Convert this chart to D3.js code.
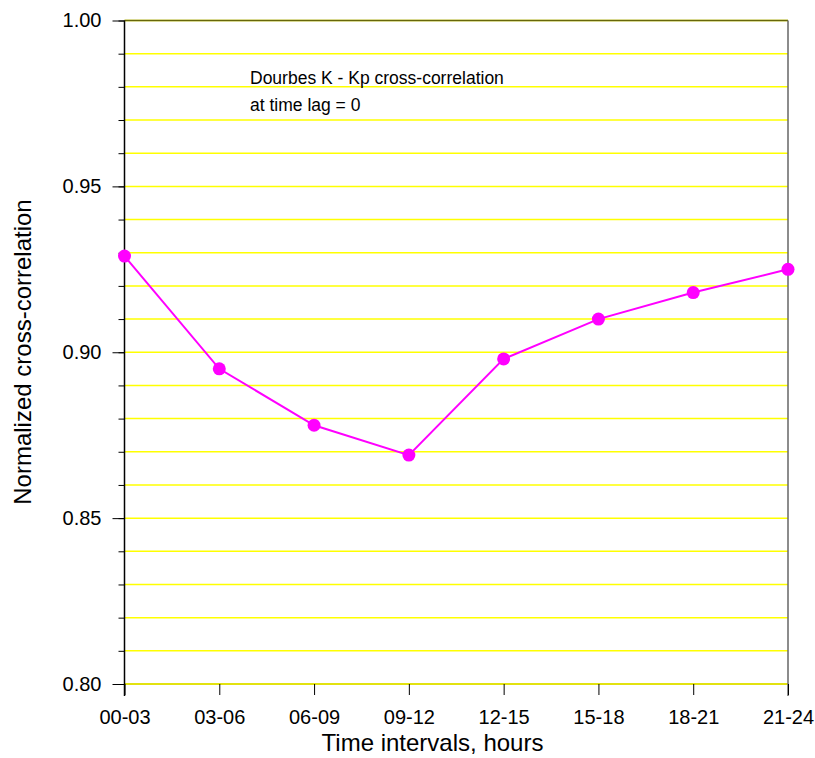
<!DOCTYPE html>
<html>
<head>
<meta charset="utf-8">
<script src="https://cdn.jsdelivr.net/npm/d3@7"></script>
<style>
  body { margin: 0; background: #fff; }
  text { font-family: Arial, "Liberation Sans", sans-serif; }
</style>
</head>
<body>
<svg width="815" height="758"></svg>
<script>
var categories = ["00-03", "03-06", "06-09", "09-12", "12-15", "15-18", "18-21", "21-24"];
var values = [0.929, 0.895, 0.878, 0.869, 0.898, 0.910, 0.918, 0.925];
var yTicks = [0.80, 0.85, 0.90, 0.95, 1.00];
var yGrid = d3.range(80, 101).map(function(d) { return d / 100; });

var svg = d3.select("svg");
var pLeft = 124.5, pRight = 788, pTop = 20.5, pBottom = 684;

var x = d3.scalePoint().domain(categories).range([pLeft, pRight]);
var y = d3.scaleLinear().domain([0.80, 1.00]).range([pBottom, pTop]);

// yellow gridlines
svg.append("g").selectAll("line")
  .data(yGrid)
  .enter().append("line")
    .attr("x1", pLeft).attr("x2", pRight)
    .attr("y1", function(d) { return y(d); })
    .attr("y2", function(d) { return y(d); })
    .style("stroke", "#ffff00")
    .style("stroke-width", 1.5);

// frame
svg.append("line").attr("x1", pLeft).attr("x2", pRight).attr("y1", pTop).attr("y2", pTop)
  .style("stroke", "#66660a").style("stroke-width", 1.5);
svg.append("line").attr("x1", pLeft).attr("x2", pRight).attr("y1", pBottom).attr("y2", pBottom)
  .style("stroke", "#d8d800").style("stroke-width", 1.5);
svg.append("line").attr("x1", pRight).attr("x2", pRight).attr("y1", pTop).attr("y2", pBottom + 12)
  .style("stroke", "#666").style("stroke-width", 1.5);

// left axis, minor ticks every 0.01, major every 0.05
var yAxis = d3.axisLeft(y).tickValues(yGrid).tickSize(6).tickFormat("");
svg.append("g").attr("transform", "translate(" + pLeft + ",0)").call(yAxis)
  .call(function(g) { g.select(".domain").remove(); });
svg.append("line").attr("x1", pLeft).attr("x2", pLeft).attr("y1", pTop).attr("y2", pBottom + 12)
  .style("stroke", "#000").style("stroke-width", 1.5);
svg.append("g").attr("transform", "translate(" + pLeft + ",0)")
  .call(d3.axisLeft(y).tickValues(yTicks).tickSize(12).tickPadding(11).tickFormat(d3.format(".2f")))
  .call(function(g) {
    g.select(".domain").remove();
    g.selectAll("text").style("font-size", "20px").style("fill", "#000")
      .style("font-family", "Arial, 'Liberation Sans', sans-serif");
  });

// bottom axis
svg.append("g").attr("transform", "translate(0," + pBottom + ")")
  .call(d3.axisBottom(x).tickSize(11).tickPadding(15))
  .call(function(g) {
    g.select(".domain").remove();
    g.selectAll("text").style("font-size", "20px").style("fill", "#000")
      .style("font-family", "Arial, 'Liberation Sans', sans-serif");
  });

// line + points
var line = d3.line()
  .x(function(d, i) { return x(categories[i]); })
  .y(function(d) { return y(d); });

svg.append("path").datum(values)
  .attr("d", line)
  .style("fill", "none")
  .style("stroke", "#ff00ff")
  .style("stroke-width", 2);

svg.selectAll("circle")
  .data(values)
  .enter().append("circle")
    .attr("cx", function(d, i) { return x(categories[i]); })
    .attr("cy", function(d) { return y(d); })
    .attr("r", 6.5)
    .style("fill", "#ff00ff");

// annotation
svg.append("text").attr("x", 250).attr("y", 84).style("font-size", "17.5px").text("Dourbes K - Kp cross-correlation");
svg.append("text").attr("x", 250).attr("y", 111).style("font-size", "17.5px").text("at time lag = 0");

// axis titles
svg.append("text")
  .attr("x", 432.5).attr("y", 751)
  .attr("text-anchor", "middle")
  .style("font-size", "24px")
  .text("Time intervals, hours");
svg.append("text")
  .attr("transform", "translate(31,352) rotate(-90)")
  .attr("text-anchor", "middle")
  .style("font-size", "24px")
  .text("Normalized cross-correlation");
</script>
</body>
</html>
